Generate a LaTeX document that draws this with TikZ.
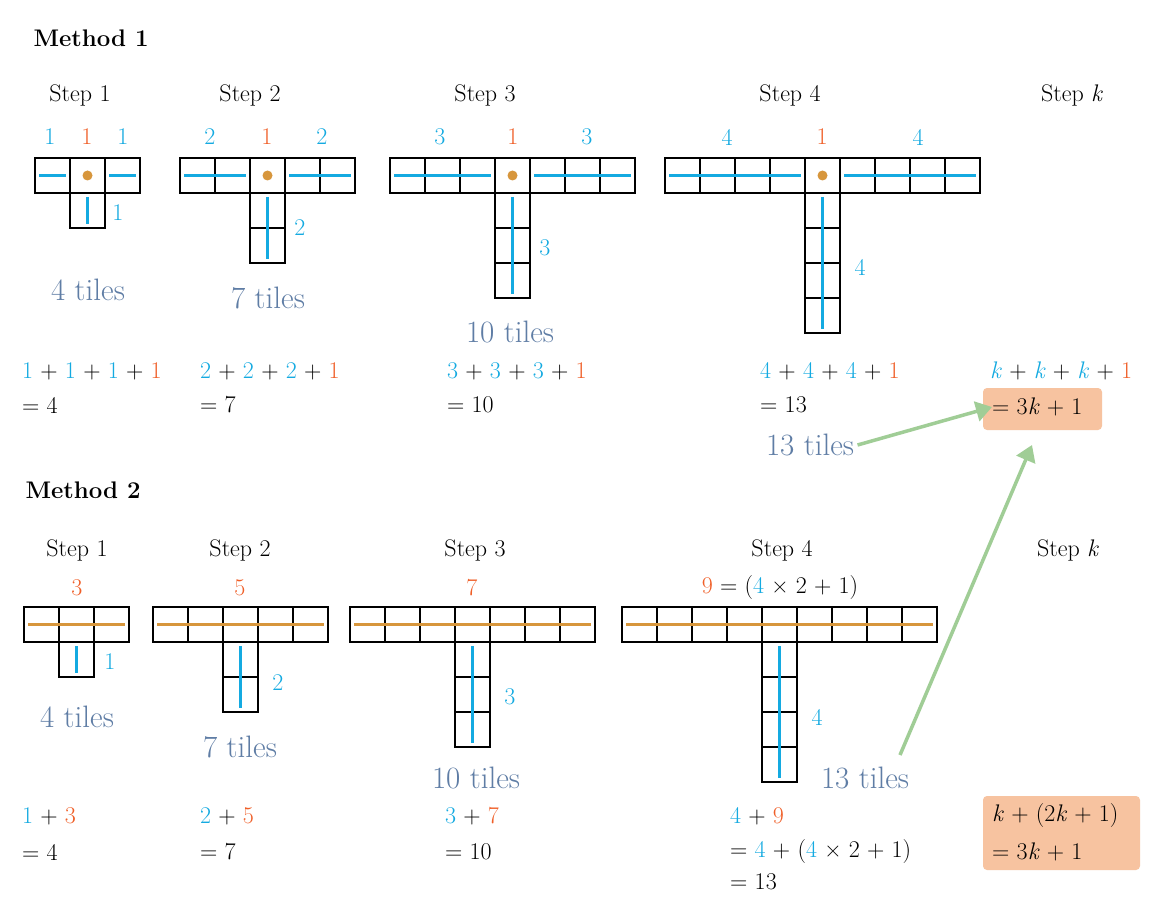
\documentclass[tikz,border=0pt]{standalone}
\usepackage{fontspec}
\usetikzlibrary{arrows.meta}
\definecolor{cyn}{RGB}{20,170,225}
\definecolor{org}{RGB}{240,95,40}
\definecolor{slate}{RGB}{95,125,165}
\definecolor{grn}{RGB}{160,205,150}
\definecolor{boxo}{RGB}{247,195,160}
\definecolor{brn}{RGB}{215,150,60}
\newcommand\tsz{35}
\newcommand\kk{\textit{k}}
% row of n tiles with m tiles under the middle one
\newcommand\tgrid[5]{%
  \pgfmathsetmacro\cx{#1+(#3-1)/2*\tsz}
  \foreach \i in {1,...,#3} \draw[tile] ({#1+(\i-1)*\tsz},#2) rectangle ++(\tsz,\tsz);
  \foreach \j in {1,...,#4} \draw[tile] (\cx,{#2+\j*\tsz}) rectangle ++(\tsz,\tsz);
  \draw[cyan line] ({\cx+\tsz/2},{#2+\tsz+4}) -- ({\cx+\tsz/2},{#2+(#4+1)*\tsz-4});
  \ifnum#5=1
    \draw[cyan line] ({#1+4},{#2+\tsz/2}) -- ({\cx-4},{#2+\tsz/2});
    \draw[cyan line] ({\cx+\tsz+4},{#2+\tsz/2}) -- ({#1+#3*\tsz-4},{#2+\tsz/2});
    \fill[brn] ({\cx+\tsz/2},{#2+\tsz/2}) circle (5);
  \else
    \draw[brn,line width=2.5pt] ({#1+4},{#2+\tsz/2}) -- ({#1+#3*\tsz-4},{#2+\tsz/2});
  \fi}
\begin{document}
\begin{tikzpicture}[x=1pt,y=-1pt,
    tile/.style={draw=black,line width=1.2pt},
    cyan line/.style={cyn,line width=2.5pt},
    title/.style={font=\fontsize{24}{28}\selectfont\bfseries},
    steplbl/.style={font=\fontsize{24}{28}\selectfont},
    num/.style={font=\fontsize{24}{28}\selectfont},
    tiles/.style={slate,font=\fontsize{31}{35}\selectfont},
    eq/.style={anchor=west,font=\fontsize{24}{28}\selectfont,inner sep=0pt},
    arr/.style={grn,line width=3.5pt,-{Triangle[length=16pt,width=20pt]}}]
  \useasboundingbox (0,0) rectangle (1173,912);
  \fill[white] (0,0) rectangle (1173,912);

  % method 1
  \node[title,anchor=west] (m1) at (30,38) {Method 1};
  \foreach \x/\s in {80/1,250/2,485/3,790/4} \node[steplbl] (a\s) at (\x,95) {Step \s};
  \node[steplbl] (ak) at (1072,95) {Step \kk};
  \tgrid{35}{158}{3}{1}{1}
  \tgrid{180}{158}{5}{2}{1}
  \tgrid{390}{158}{7}{3}{1}
  \tgrid{665}{158}{9}{4}{1}
  \foreach \l/\o/\r/\n in {50/87/123/1,210/267/322/2,440/513/587/3,727/822/918/4}{
    \node[num,cyn] at (\l,137) {\n};
    \node[num,org] at (\o,137) {1};
    \node[num,cyn] at (\r,137) {\n};}
  \foreach \x/\y/\n in {118/213/1,300/228/2,545/248/3,860/267/4} \node[num,cyn] (s\n) at (\x,\y) {\n};
  \node[tiles] (t1) at (88,290) {4 tiles};
  \node[tiles] (t2) at (268,298) {7 tiles};
  \node[tiles] (t3) at (510,332) {10 tiles};
  \foreach \x/\n/\r in {22/1/4,200/2/7,447/3/10,760/4/13}{
    \node[eq] at (\x,371) {\textcolor{cyn}{\n} + \textcolor{cyn}{\n} + \textcolor{cyn}{\n} + \textcolor{org}{1}};
    \node[eq] at (\x,405) {= \r};}
  \node[eq] (ek) at (990,371) {\textcolor{cyn}{\kk} + \textcolor{cyn}{\kk} + \textcolor{cyn}{\kk} + \textcolor{org}{1}};
  \fill[boxo,rounded corners=4pt] (983,388) rectangle (1102,430);
  \node[eq] (r1) at (992,407) {= 3\kk\ + 1};
  \node[tiles] (t4) at (810,445) {13 tiles};
  \draw[arr] (t4.east) -- (r1.west);

  % method 2
  \node[title,anchor=west] (m2) at (22,490) {Method 2};
  \foreach \x/\s in {77/1,240/2,475/3,782/4} \node[steplbl] (b\s) at (\x,550) {Step \s};
  \node[steplbl] (bk) at (1068,550) {Step \kk};
  \foreach \x/\n in {77/3,240/5,472/7} \node[num,org] at (\x,588) {\n};
  \node[num] (n9) at (780,588) {\textcolor{org}{9} = (\textcolor{cyn}{4} × 2 + 1)};
  \tgrid{24}{607}{3}{1}{2}
  \tgrid{153}{607}{5}{2}{2}
  \tgrid{350}{607}{7}{3}{2}
  \tgrid{622}{607}{9}{4}{2}
  \foreach \x/\y/\n in {110/662/1,278/683/2,510/697/3,817/717/4} \node[num,cyn] (q\n) at (\x,\y) {\n};
  \node[tiles] (u1) at (77,717) {4 tiles};
  \node[tiles] (u2) at (240,747) {7 tiles};
  \node[tiles] (u3) at (476,778) {10 tiles};
  \node[tiles] (u4) at (865,778) {13 tiles};
  \foreach \x/\n/\m/\r in {22/1/3/4,200/2/5/7,445/3/7/10}{
    \node[eq] at (\x,816) {\textcolor{cyn}{\n} + \textcolor{org}{\m}};
    \node[eq] at (\x,852) {= \r};}
  \node[eq] at (730,816) {\textcolor{cyn}{4} + \textcolor{org}{9}};
  \node[eq] at (730,852) {= \textcolor{cyn}{4} + (\textcolor{cyn}{4} × 2 + 1)};
  \node[eq] at (730,882) {= 13};
  \fill[boxo,rounded corners=4pt] (983,796) rectangle (1140,870);
  \node[eq] (ek2) at (992,816) {\kk\ + (2\kk\ + 1)};
  \node[eq] (r2) at (992,852) {= 3\kk\ + 1};
  \coordinate (top) at (1032,445);
  \coordinate (tail) at (900,755);
  \draw[arr] (tail) -- (top);
\end{tikzpicture}
\end{document}
